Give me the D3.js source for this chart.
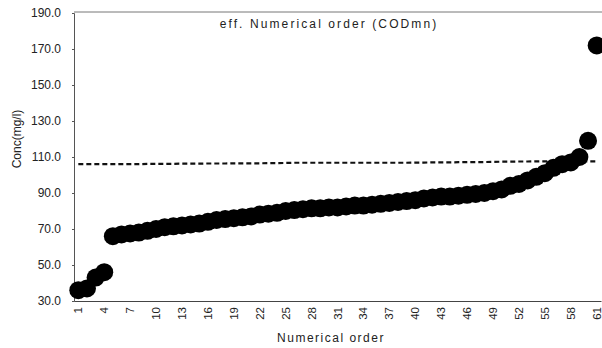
<!DOCTYPE html>
<html>
<head>
<meta charset="utf-8">
<script src="https://cdnjs.cloudflare.com/ajax/libs/d3/7.8.5/d3.min.js"></script>
<style>
  body { margin: 0; background: #fff; }
  text { font-family: Arial, "Liberation Sans", sans-serif; fill: #222; }
</style>
</head>
<body>
<div id="viz"></div>
<script>
// numerical order 1..61
let orders = d3.range(1, 62)

// eff. COD concentration, sorted (mg/l)
let conc = [36, 37, 43, 46, 66, 67, 67.5, 68, 69, 70,
  71, 71.5, 72, 72.5, 73, 74, 75, 75.5, 76, 76.5,
  77, 78, 78.5, 79, 80, 80.5, 81, 81.5, 81.5, 82,
  82, 82.5, 83, 83, 83.5, 84, 84.5, 85, 85.5, 86,
  87, 87.5, 88, 88, 88.5, 89, 89.5, 90, 91, 92,
  94, 95, 97, 99, 101, 104, 106, 107, 110, 119,
  172]

// dashed reference line
let limit = [106, 106, 106, 106, 106, 106, 106, 106, 106.2, 106.2,
  106.2, 106.2, 106.3, 106.3, 106.3, 106.4, 106.4, 106.4, 106.5, 106.5,
  106.5, 106.5, 106.6, 106.6, 106.7, 106.8, 106.8, 106.8, 106.8, 106.8,
  106.8, 106.8, 106.8, 106.8, 106.8, 106.8, 106.8, 106.8, 106.8, 106.9,
  106.9, 107, 107, 107, 107.1, 107.1, 107.2, 107.2, 107.3, 107.4,
  107.4, 107.5, 107.5, 107.6, 107.6, 107.6, 107.6, 107.6, 107.6, 107.6,
  107.6]

let yTicks = [30, 50, 70, 90, 110, 130, 150, 170, 190]
let xTickLabels = orders.filter(d => (d - 1) % 3 === 0)

let svg = d3.select('#viz')
  .append('svg')
  .attr('width', 602)
  .attr('height', 348)

let x = d3.scaleBand()
  .domain(orders)
  .range([74, 601])

let y = d3.scaleLinear()
  .domain([30, 190])
  .range([301, 13])

let cx = d => x(d) + x.bandwidth() / 2

// frame
svg.append('line')
  .attr('x1', 74).attr('x2', 602)
  .attr('y1', y(190) - 1).attr('y2', y(190) - 1)
  .attr('stroke', '#777').attr('stroke-width', 1)

// y axis
let yAxis = svg.append('g')
  .attr('transform', 'translate(74,0)')
  .call(d3.axisLeft(y).tickValues(yTicks).tickSize(2).tickFormat(d3.format('.1f')))
yAxis.select('.domain').attr('stroke', '#555')
yAxis.selectAll('.tick line').attr('stroke', '#555')
yAxis.selectAll('text')
  .attr('x', -13)
  .style('font-size', '12px')
  .style('fill', '#222')

// x axis
let xAxis = svg.append('g')
  .attr('transform', 'translate(0,301)')
  .call(d3.axisBottom(x).tickValues(xTickLabels).tickSize(0))
xAxis.select('.domain').attr('stroke', '#444')
xAxis.selectAll('text')
  .attr('transform', 'rotate(-90)')
  .attr('x', -6)
  .attr('y', 0)
  .attr('dy', '0.35em')
  .attr('text-anchor', 'end')
  .style('font-size', '11.5px')
  .style('fill', '#222')

// dashed line
svg.append('path')
  .datum(limit)
  .attr('fill', 'none')
  .attr('stroke', '#111')
  .attr('stroke-width', 2.2)
  .attr('stroke-dasharray', '5,3')
  .attr('d', d3.line().x((d, i) => cx(orders[i])).y(d => y(d)))

// points
svg.selectAll('circle.pt')
  .data(conc)
  .enter()
  .append('circle')
  .attr('class', 'pt')
  .attr('cx', (d, i) => cx(orders[i]))
  .attr('cy', d => y(d))
  .attr('r', 9)
  .attr('fill', '#000')

// texts
svg.append('text')
  .attr('x', 329).attr('y', 28)
  .attr('text-anchor', 'middle')
  .style('font-size', '12px')
  .style('letter-spacing', '2.1px')
  .text('eff. Numerical order (CODmn)')

svg.append('text')
  .attr('x', 331).attr('y', 342)
  .attr('text-anchor', 'middle')
  .style('font-size', '12px')
  .style('letter-spacing', '1.5px')
  .text('Numerical order')

svg.append('text')
  .attr('transform', 'translate(21,139) rotate(-90)')
  .attr('text-anchor', 'middle')
  .style('font-size', '12px')
  .text('Conc(mg/l)')
</script>
</body>
</html>
